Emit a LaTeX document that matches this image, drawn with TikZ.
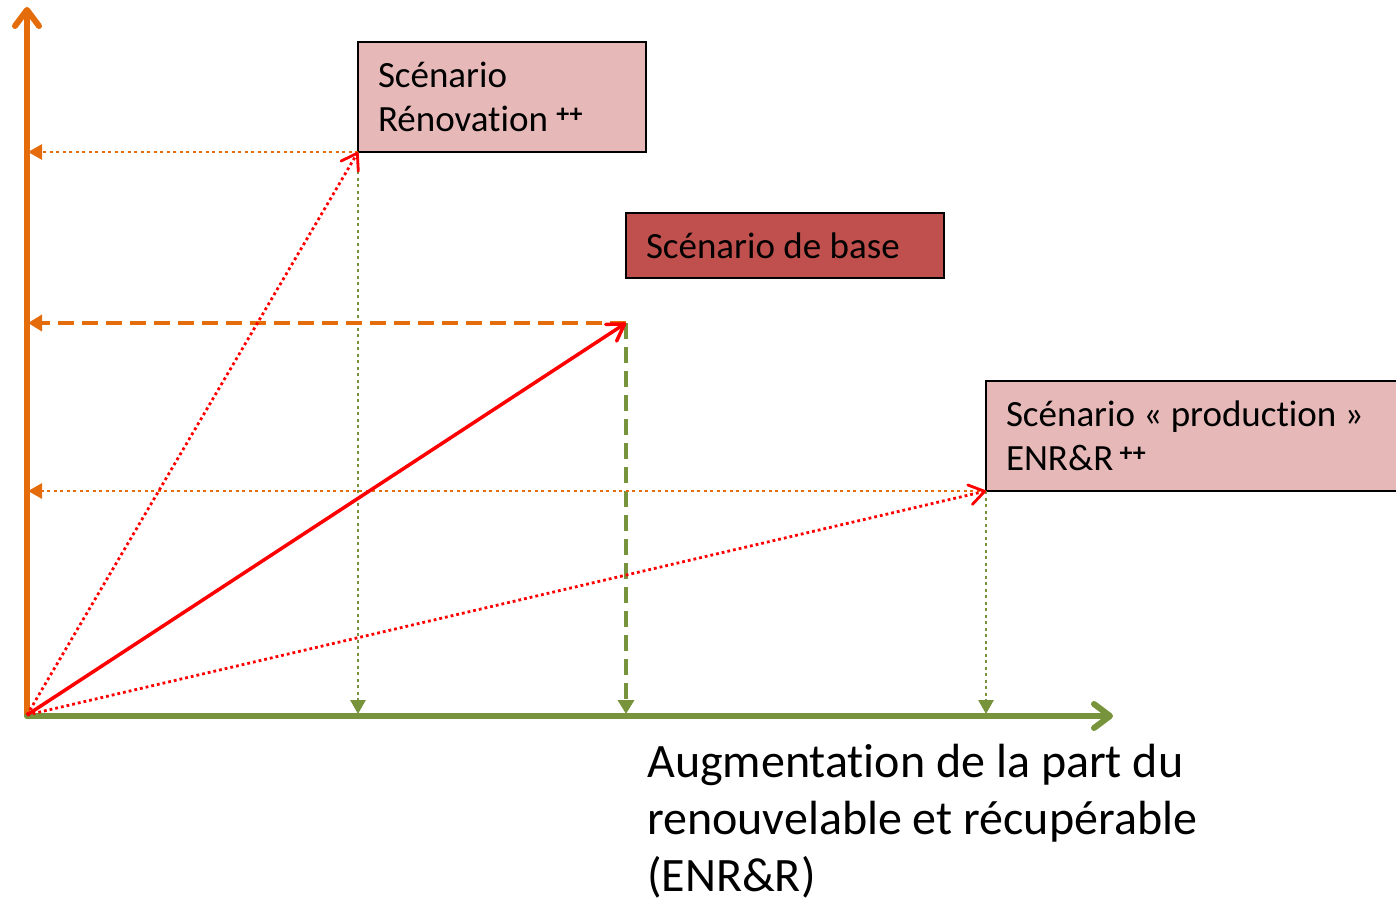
\documentclass[tikz,border=0pt]{standalone}
\usepackage{fontspec}
\setmainfont{Carlito}[Ligatures=NoCommon]
\usetikzlibrary{arrows.meta}
\definecolor{axorange}{HTML}{E46C0A}
\definecolor{axgreen}{HTML}{77933C}
\definecolor{boxpink}{HTML}{E6B9B8}
\definecolor{boxred}{HTML}{C0504D}
\newcommand{\normsp}{\spaceskip=0pt\xspaceskip=0pt\relax}
\begin{document}
\begin{tikzpicture}[x=1pt,y=-1pt,
 axis/.style={line width=6pt, line cap=round, -{Straight Barb[length=16pt,width=24pt,line cap=round,line join=round]}},
 projdot/.style={line width=2.8pt, dash pattern=on 3pt off 3.5pt, -{Triangle[length=14pt,width=15pt]}},
 projdash/.style={line width=4pt, dash pattern=on 16pt off 8pt, -{Triangle[length=14pt,width=16pt]}},
 vecsolid/.style={red, line width=3.5pt, -{Straight Barb[length=16pt,width=20pt,line cap=round,line join=round]}},
 vecdot/.style={red, line width=2.8pt, dash pattern=on 2.8pt off 3pt, -{Straight Barb[length=15pt,width=20pt,line cap=round,line join=round]}},
 scen/.style={draw=black, line width=2.5pt, rectangle, anchor=north west, inner xsep=20pt, inner ysep=0pt, outer sep=0pt, align=left, font=\fontsize{37}{44}\selectfont},
]
\useasboundingbox (0,0) rectangle (1396,901);
% boxes
\node[scen, fill=boxpink, minimum width=288pt, minimum height=110pt, text width=248pt] (b1) at (358,42) {\normsp Scénario\\Rénovation \textsuperscript{\bfseries ++}};
\node[scen, fill=boxred, minimum width=318pt, minimum height=65pt, text width=278pt] (b2) at (626,213) {\normsp Scénario de base};
\node[scen, fill=boxpink, minimum width=414pt, minimum height=110pt, text width=374pt] (b3) at (986,381) {\normsp Scénario « production »\\ENR\&R\,\textsuperscript{\bfseries ++}};
% coordinates
\coordinate (O) at (27,715);
\coordinate (Ytop) at (27,7);
\coordinate (Xo) at (27,716);
\coordinate (Xend) at (1113,716);
\coordinate (P2) at (626,323);
\coordinate (Y1) at (28,152);
\coordinate (Y2) at (28,323);
\coordinate (Y3) at (28,491);
\coordinate (X1) at (358,714);
\coordinate (X2) at (626,714);
\coordinate (X3) at (986,714);
% projections
\draw[projdot, axorange] (b1.south west) -- (Y1);
\draw[projdot, axgreen] (b1.south west) -- (X1);
\draw[projdash, axorange] (P2) -- (Y2);
\draw[projdash, axgreen] (P2) -- (X2);
\draw[projdot, axorange] (b3.south west) -- (Y3);
\draw[projdot, axgreen] (b3.south west) -- (X3);
% axes
\draw[axis, axorange] (O) -- (Ytop);
\draw[axis, axgreen] (Xo) -- (Xend);
% vectors
\draw[vecdot] (O) -- (b1.south west);
\draw[vecsolid] (O) -- (P2);
\draw[vecdot] (O) -- (b3.south west);
% axis label
\node[anchor=base west, inner sep=0pt, align=left, font=\fontsize{48}{57}\selectfont] (lbl) at (647,891) {Augmentation de la part du\\renouvelable et récupérable\\(ENR\&R)};
\end{tikzpicture}
\end{document}
